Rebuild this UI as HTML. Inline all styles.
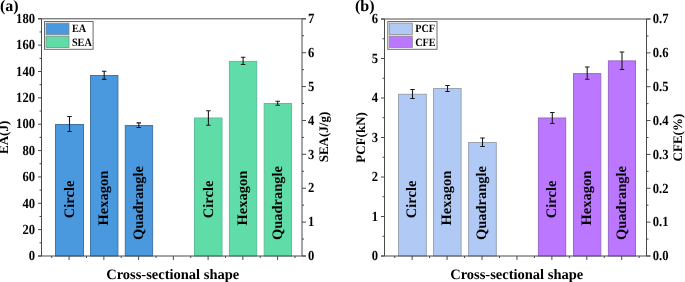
<!DOCTYPE html>
<html><head><meta charset="utf-8"><style>
html,body{margin:0;padding:0;background:#fff;width:685px;height:282px;overflow:hidden}
svg{display:block;will-change:transform}
text{font-family:"Liberation Serif", serif;font-weight:bold;fill:#000;text-rendering:geometricPrecision}
</style></head><body>
<svg width="685" height="282" viewBox="0 0 685 282">
<rect x="55.5" y="124.5" width="28" height="131.5" fill="#4A99DF" stroke="#44749f" stroke-width="1"/>
<rect x="90.5" y="75.5" width="27.4" height="180.5" fill="#4A99DF" stroke="#44749f" stroke-width="1"/>
<rect x="125.3" y="125.5" width="27.3" height="130.5" fill="#4A99DF" stroke="#44749f" stroke-width="1"/>
<rect x="194.5" y="118" width="27.5" height="138" fill="#60DCA8" stroke="#5cbf9a" stroke-width="1"/>
<rect x="229.4" y="61.4" width="27.3" height="194.6" fill="#60DCA8" stroke="#5cbf9a" stroke-width="1"/>
<rect x="264.2" y="103.5" width="27.3" height="152.5" fill="#60DCA8" stroke="#5cbf9a" stroke-width="1"/>
<path d="M69.5 116.5V131.5M67.25 116.5H71.75M67.25 131.5H71.75" stroke="#1a1a1a" stroke-width="1.1" fill="none"/>
<path d="M104.2 71.3V79.4M101.95 71.3H106.45M101.95 79.4H106.45" stroke="#1a1a1a" stroke-width="1.1" fill="none"/>
<path d="M138.8 122.9V127.5M136.55 122.9H141.05M136.55 127.5H141.05" stroke="#1a1a1a" stroke-width="1.1" fill="none"/>
<path d="M208.4 110.7V125.3M206.15 110.7H210.65M206.15 125.3H210.65" stroke="#1a1a1a" stroke-width="1.1" fill="none"/>
<path d="M243.1 57.3V64.5M240.85 57.3H245.35M240.85 64.5H245.35" stroke="#1a1a1a" stroke-width="1.1" fill="none"/>
<path d="M277.7 101.3V105.3M275.45 101.3H279.95M275.45 105.3H279.95" stroke="#1a1a1a" stroke-width="1.1" fill="none"/>
<path d="M41.5 18.8V256" stroke="#4a4a4a" stroke-width="1" fill="none"/>
<path d="M302 18.8V256" stroke="#4a4a4a" stroke-width="1" fill="none"/>
<path d="M38 18.8H306" stroke="#4a4a4a" stroke-width="1" fill="none"/>
<path d="M38 256H306" stroke="#4a4a4a" stroke-width="1" fill="none"/>
<path d="M38 256H41.5M39.5 242.82H41.5M38 229.64H41.5M39.5 216.47H41.5M38 203.29H41.5M39.5 190.11H41.5M38 176.93H41.5M39.5 163.76H41.5M38 150.58H41.5M39.5 137.4H41.5M38 124.22H41.5M39.5 111.04H41.5M38 97.87H41.5M39.5 84.69H41.5M38 71.51H41.5M39.5 58.33H41.5M38 45.16H41.5M39.5 31.98H41.5M38 18.8H41.5M302 256H306M302 239.06H304M302 222.11H306M302 205.17H304M302 188.23H306M302 171.29H304M302 154.34H306M302 137.4H304M302 120.46H306M302 103.51H304M302 86.57H306M302 69.63H304M302 52.69H306M302 35.74H304M302 18.8H306M69.1 256V260M103.85 256V260M138.6 256V260M173.35 256V260M208.1 256V260M242.85 256V260M277.6 256V260M51.72 256V258M86.47 256V258M121.22 256V258M155.97 256V258M190.72 256V258M225.47 256V258M260.23 256V258M294.98 256V258" stroke="#4a4a4a" stroke-width="1" fill="none"/>
<text transform="translate(35,260.25) scale(0.97,1.075)" text-anchor="end" font-size="13">0</text>
<text transform="translate(35,233.89) scale(0.97,1.075)" text-anchor="end" font-size="13">20</text>
<text transform="translate(35,207.54) scale(0.97,1.075)" text-anchor="end" font-size="13">40</text>
<text transform="translate(35,181.18) scale(0.97,1.075)" text-anchor="end" font-size="13">60</text>
<text transform="translate(35,154.83) scale(0.97,1.075)" text-anchor="end" font-size="13">80</text>
<text transform="translate(35,128.47) scale(0.97,1.075)" text-anchor="end" font-size="13">100</text>
<text transform="translate(35,102.12) scale(0.97,1.075)" text-anchor="end" font-size="13">120</text>
<text transform="translate(35,75.76) scale(0.97,1.075)" text-anchor="end" font-size="13">140</text>
<text transform="translate(35,49.41) scale(0.97,1.075)" text-anchor="end" font-size="13">160</text>
<text transform="translate(35,23.05) scale(0.97,1.075)" text-anchor="end" font-size="13">180</text>
<text transform="translate(308,260.25) scale(0.97,1.075)" font-size="13">0</text>
<text transform="translate(308,226.36) scale(0.97,1.075)" font-size="13">1</text>
<text transform="translate(308,192.48) scale(0.97,1.075)" font-size="13">2</text>
<text transform="translate(308,158.59) scale(0.97,1.075)" font-size="13">3</text>
<text transform="translate(308,124.71) scale(0.97,1.075)" font-size="13">4</text>
<text transform="translate(308,90.82) scale(0.97,1.075)" font-size="13">5</text>
<text transform="translate(308,56.94) scale(0.97,1.075)" font-size="13">6</text>
<text transform="translate(308,23.05) scale(0.97,1.075)" font-size="13">7</text>
<text transform="translate(8.2,137.4) rotate(-90)" text-anchor="middle" font-size="13">EA(J)</text>
<text transform="translate(327.8,137) rotate(-90)" text-anchor="middle" font-size="13">SEA(J/g)</text>
<text x="172.7" y="278.8" text-anchor="middle" font-size="14.5">Cross-sectional shape</text>
<text x="0" y="11.4" font-size="16">(a)</text>
<text transform="translate(73.5,218.2) rotate(-90)" font-size="14.5">Circle</text>
<text transform="translate(108.25,225.5) rotate(-90)" font-size="14.5">Hexagon</text>
<text transform="translate(143,240.1) rotate(-90)" font-size="14.5">Quadrangle</text>
<text transform="translate(212.5,218.2) rotate(-90)" font-size="14.5">Circle</text>
<text transform="translate(247.25,225.5) rotate(-90)" font-size="14.5">Hexagon</text>
<text transform="translate(282,240.1) rotate(-90)" font-size="14.5">Quadrangle</text>
<rect x="44.5" y="21.5" width="48.6" height="27.8" fill="#fff" stroke="#6a6a6a" stroke-width="1"/>
<rect x="46" y="23.1" width="23" height="11.6" fill="#4A99DF" stroke="#888" stroke-width="0.8"/>
<text transform="translate(71.9,32.3) scale(0.975,1.07)" font-size="10.5">EA</text>
<rect x="46" y="36.1" width="23" height="11.4" fill="#60DCA8" stroke="#888" stroke-width="0.8"/>
<text transform="translate(71.9,45.8) scale(0.975,1.07)" font-size="10.5">SEA</text>
<rect x="398.5" y="94.3" width="27.8" height="161.7" fill="#B0CAF5" stroke="#9ba3b3" stroke-width="1"/>
<rect x="433.5" y="88.5" width="27.6" height="167.5" fill="#B0CAF5" stroke="#9ba3b3" stroke-width="1"/>
<rect x="468.6" y="142.5" width="27.7" height="113.5" fill="#B0CAF5" stroke="#9ba3b3" stroke-width="1"/>
<rect x="538.4" y="118" width="27.3" height="138" fill="#BB77FF" stroke="#9a6ac8" stroke-width="1"/>
<rect x="573.5" y="73.6" width="27.3" height="182.4" fill="#BB77FF" stroke="#9a6ac8" stroke-width="1"/>
<rect x="608.4" y="60.9" width="27.1" height="195.1" fill="#BB77FF" stroke="#9a6ac8" stroke-width="1"/>
<path d="M412.5 89.5V98.5M410.25 89.5H414.75M410.25 98.5H414.75" stroke="#1a1a1a" stroke-width="1.1" fill="none"/>
<path d="M447.5 85.5V91.5M445.25 85.5H449.75M445.25 91.5H449.75" stroke="#1a1a1a" stroke-width="1.1" fill="none"/>
<path d="M482.5 138V146.5M480.25 138H484.75M480.25 146.5H484.75" stroke="#1a1a1a" stroke-width="1.1" fill="none"/>
<path d="M552.3 112.5V123.5M550.05 112.5H554.55M550.05 123.5H554.55" stroke="#1a1a1a" stroke-width="1.1" fill="none"/>
<path d="M587.2 67V79.3M584.95 67H589.45M584.95 79.3H589.45" stroke="#1a1a1a" stroke-width="1.1" fill="none"/>
<path d="M622 52V69.5M619.75 52H624.25M619.75 69.5H624.25" stroke="#1a1a1a" stroke-width="1.1" fill="none"/>
<path d="M384.5 19V256" stroke="#4a4a4a" stroke-width="1" fill="none"/>
<path d="M646.5 19V256" stroke="#4a4a4a" stroke-width="1" fill="none"/>
<path d="M381 19H650.5" stroke="#4a4a4a" stroke-width="1" fill="none"/>
<path d="M381 256H650.5" stroke="#4a4a4a" stroke-width="1" fill="none"/>
<path d="M381 256H384.5M382.5 236.25H384.5M381 216.5H384.5M382.5 196.75H384.5M381 177H384.5M382.5 157.25H384.5M381 137.5H384.5M382.5 117.75H384.5M381 98H384.5M382.5 78.25H384.5M381 58.5H384.5M382.5 38.75H384.5M381 19H384.5M646.5 256H650.5M646.5 239.07H648.5M646.5 222.14H650.5M646.5 205.21H648.5M646.5 188.29H650.5M646.5 171.36H648.5M646.5 154.43H650.5M646.5 137.5H648.5M646.5 120.57H650.5M646.5 103.64H648.5M646.5 86.71H650.5M646.5 69.79H648.5M646.5 52.86H650.5M646.5 35.93H648.5M646.5 19H650.5M412.15 256V260M447.08 256V260M482.01 256V260M516.94 256V260M551.87 256V260M586.8 256V260M621.73 256V260M394.69 256V258M429.61 256V258M464.54 256V258M499.47 256V258M534.4 256V258M569.34 256V258M604.26 256V258M639.19 256V258" stroke="#4a4a4a" stroke-width="1" fill="none"/>
<text transform="translate(378,260.25) scale(0.97,1.075)" text-anchor="end" font-size="13">0</text>
<text transform="translate(378,220.75) scale(0.97,1.075)" text-anchor="end" font-size="13">1</text>
<text transform="translate(378,181.25) scale(0.97,1.075)" text-anchor="end" font-size="13">2</text>
<text transform="translate(378,141.75) scale(0.97,1.075)" text-anchor="end" font-size="13">3</text>
<text transform="translate(378,102.25) scale(0.97,1.075)" text-anchor="end" font-size="13">4</text>
<text transform="translate(378,62.75) scale(0.97,1.075)" text-anchor="end" font-size="13">5</text>
<text transform="translate(378,23.25) scale(0.97,1.075)" text-anchor="end" font-size="13">6</text>
<text transform="translate(652.8,260.25) scale(0.97,1.075)" font-size="13">0.0</text>
<text transform="translate(652.8,226.39) scale(0.97,1.075)" font-size="13">0.1</text>
<text transform="translate(652.8,192.54) scale(0.97,1.075)" font-size="13">0.2</text>
<text transform="translate(652.8,158.68) scale(0.97,1.075)" font-size="13">0.3</text>
<text transform="translate(652.8,124.82) scale(0.97,1.075)" font-size="13">0.4</text>
<text transform="translate(652.8,90.96) scale(0.97,1.075)" font-size="13">0.5</text>
<text transform="translate(652.8,57.11) scale(0.97,1.075)" font-size="13">0.6</text>
<text transform="translate(652.8,23.25) scale(0.97,1.075)" font-size="13">0.7</text>
<text transform="translate(365.3,137.4) rotate(-90)" text-anchor="middle" font-size="13">PCF(kN)</text>
<text transform="translate(682.3,137.6) rotate(-90)" text-anchor="middle" font-size="13">CFE(%)</text>
<text x="516.7" y="278.8" text-anchor="middle" font-size="14.5">Cross-sectional shape</text>
<text x="355" y="10.8" font-size="16">(b)</text>
<text transform="translate(416.25,218.2) rotate(-90)" font-size="14.5">Circle</text>
<text transform="translate(451.18,225.5) rotate(-90)" font-size="14.5">Hexagon</text>
<text transform="translate(486.11,240.1) rotate(-90)" font-size="14.5">Quadrangle</text>
<text transform="translate(555.97,218.2) rotate(-90)" font-size="14.5">Circle</text>
<text transform="translate(590.9,225.5) rotate(-90)" font-size="14.5">Hexagon</text>
<text transform="translate(625.83,240.1) rotate(-90)" font-size="14.5">Quadrangle</text>
<rect x="387.8" y="21.5" width="49.2" height="27.8" fill="#fff" stroke="#6a6a6a" stroke-width="1"/>
<rect x="389.3" y="23.1" width="23" height="11.3" fill="#B0CAF5" stroke="#888" stroke-width="0.8"/>
<text transform="translate(415.2,32.3) scale(0.975,1.07)" font-size="10.5">PCF</text>
<rect x="389.3" y="36.1" width="23" height="11.4" fill="#BB77FF" stroke="#888" stroke-width="0.8"/>
<text transform="translate(415.2,45.8) scale(0.975,1.07)" font-size="10.5">CFE</text>
</svg>
</body></html>
